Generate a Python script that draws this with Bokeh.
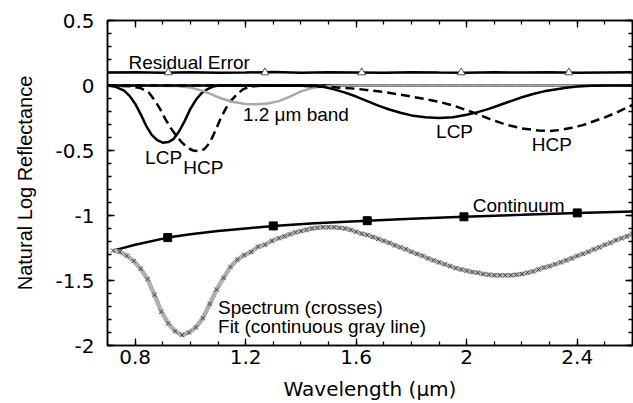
import numpy as np
from bokeh.plotting import figure
from bokeh.models import Range1d, LinearAxis, FixedTicker
from bokeh.core.properties import value
from bokeh.embed import file_html
from bokeh.resources import INLINE

# ---------------- data ----------------
x_ticks = [0.8, 1.2, 1.6, 2.0, 2.4]
x_tick_labels = ["0.8", "1.2", "1.6", "2", "2.4"]
y_ticks = [-2.0, -1.5, -1.0, -0.5, 0.0, 0.5]
y_tick_labels = ["-2", "-1.5", "-1", "-0.5", "0", "0.5"]

# measured spectrum (crosses) and MGM fit (gray line)
spec_x = [0.720, 0.745, 0.770, 0.795, 0.820, 0.845, 0.870, 0.895, 0.920, 0.945,
          0.970, 0.995, 1.020, 1.045, 1.070, 1.095, 1.120, 1.145, 1.170, 1.195,
          1.220, 1.245, 1.270, 1.295,
          1.32, 1.34, 1.36, 1.38, 1.40, 1.42, 1.44, 1.46, 1.48, 1.50,
          1.52, 1.54, 1.56, 1.58, 1.60, 1.62, 1.64, 1.66, 1.68, 1.70,
          1.72, 1.74, 1.76, 1.78, 1.80, 1.82, 1.84, 1.86, 1.88, 1.90,
          1.92, 1.94, 1.96, 1.98, 2.00, 2.02, 2.04, 2.06, 2.08, 2.10,
          2.12, 2.14, 2.16, 2.18, 2.20, 2.22, 2.24, 2.26, 2.28, 2.30,
          2.32, 2.34, 2.36, 2.38, 2.40, 2.42, 2.44, 2.46, 2.48, 2.50,
          2.52, 2.54, 2.56, 2.58, 2.60]
spec_y = [-1.27, -1.28, -1.31, -1.35, -1.41, -1.49, -1.61, -1.74, -1.83, -1.89,
          -1.92, -1.90, -1.86, -1.79, -1.68, -1.57, -1.48, -1.395, -1.34, -1.305,
          -1.28, -1.24, -1.225, -1.195,
          -1.175, -1.16, -1.145, -1.13, -1.12, -1.11, -1.10, -1.095, -1.09, -1.09,
          -1.09, -1.095, -1.10, -1.11, -1.125, -1.14, -1.15, -1.165, -1.18, -1.195,
          -1.21, -1.23, -1.245, -1.26, -1.28, -1.295, -1.31, -1.33, -1.345, -1.36,
          -1.375, -1.39, -1.405, -1.415, -1.425, -1.435, -1.44, -1.45, -1.455, -1.46,
          -1.46, -1.46, -1.46, -1.455, -1.45, -1.44, -1.43, -1.415, -1.40, -1.39,
          -1.375, -1.36, -1.345, -1.33, -1.31, -1.295, -1.28, -1.26, -1.245, -1.225,
          -1.21, -1.19, -1.175, -1.16, -1.14]
fit_x = spec_x
fit_y = spec_y

# continuum
cont_x = [0.72, 0.80, 0.918, 1.00, 1.10, 1.20, 1.30, 1.45, 1.64, 1.80, 1.99, 2.20, 2.40, 2.60]
cont_y = [-1.27, -1.225, -1.17, -1.145, -1.12, -1.10, -1.08, -1.06, -1.04, -1.025, -1.01, -0.995, -0.98, -0.97]
cont_mark_x = [0.918, 1.30, 1.64, 1.99, 2.40]
cont_mark_y = [-1.17, -1.08, -1.04, -1.01, -0.98]

# residual error (offset +0.1)
res_x = [0.70, 0.80, 0.90, 1.00, 1.10, 1.20, 1.30, 1.40, 1.50, 1.60,
         1.70, 1.80, 1.90, 2.00, 2.10, 2.20, 2.30, 2.40, 2.50, 2.60]
res_y = [0.100, 0.102, 0.099, 0.101, 0.098, 0.100, 0.103, 0.099, 0.101, 0.100,
         0.098, 0.102, 0.100, 0.099, 0.101, 0.100, 0.102, 0.099, 0.100, 0.101]
res_mark_x = [0.92, 1.27, 1.62, 1.98, 2.37]
res_mark_y = [0.10, 0.10, 0.10, 0.10, 0.10]

# absorption bands
lcp1_x = [0.70, 0.73, 0.76, 0.78, 0.80, 0.82, 0.84, 0.86, 0.88, 0.90, 0.92, 0.94,
          0.96, 0.98, 1.00, 1.02, 1.04, 1.06, 1.08, 1.10, 1.15, 2.60]
lcp1_y = [0.0, -0.01, -0.04, -0.08, -0.14, -0.22, -0.31, -0.38, -0.42, -0.44, -0.435, -0.41,
          -0.35, -0.27, -0.18, -0.11, -0.06, -0.03, -0.01, 0.0, 0.0, 0.0]

hcp1_x = [0.70, 0.78, 0.82, 0.85, 0.87, 0.89, 0.91, 0.93, 0.95, 0.97, 0.99, 1.01, 1.03,
          1.05, 1.07, 1.09, 1.11, 1.13, 1.15, 1.17, 1.19, 1.21, 1.24, 1.30, 2.60]
hcp1_y = [0.0, -0.005, -0.02, -0.055, -0.11, -0.18, -0.26, -0.33, -0.39, -0.44, -0.48, -0.50, -0.505,
          -0.49, -0.44, -0.35, -0.25, -0.17, -0.11, -0.065, -0.03, -0.012, -0.003, 0.0, 0.0]

band12_x = [0.70, 0.95, 1.00, 1.05, 1.10, 1.15, 1.20, 1.24, 1.28, 1.32, 1.36, 1.40, 1.44, 1.48, 1.55, 2.60]
band12_y = [0.0, -0.003, -0.015, -0.045, -0.09, -0.125, -0.143, -0.145, -0.138, -0.12, -0.085,
            -0.045, -0.02, -0.006, 0.0, 0.0]

lcp2_x = [0.70, 1.40, 1.45, 1.48, 1.52, 1.56, 1.60, 1.64, 1.68, 1.72, 1.76, 1.80, 1.85, 1.90,
          1.95, 2.00, 2.04, 2.08, 2.12, 2.16, 2.20, 2.24, 2.28, 2.32, 2.36, 2.40, 2.45, 2.50, 2.60]
lcp2_y = [0.0, 0.0, -0.003, -0.01, -0.03, -0.055, -0.085, -0.12, -0.155, -0.185, -0.21, -0.23,
          -0.245, -0.25, -0.245, -0.225, -0.205, -0.18, -0.15, -0.12, -0.09, -0.065, -0.045,
          -0.03, -0.018, -0.008, -0.002, 0.0, 0.0]

hcp2_x = [0.70, 1.30, 1.40, 1.50, 1.60, 1.70, 1.80, 1.90, 1.96, 2.02, 2.08, 2.14, 2.20, 2.26,
          2.30, 2.34, 2.38, 2.42, 2.46, 2.50, 2.54, 2.58, 2.60]
hcp2_y = [0.0, 0.0, -0.003, -0.01, -0.025, -0.05, -0.085, -0.125, -0.16, -0.205, -0.255, -0.30,
          -0.33, -0.347, -0.35, -0.342, -0.325, -0.305, -0.275, -0.245, -0.21, -0.17, -0.15]

# annotation texts
ann_text = ["Residual Error", "1.2 \u03bcm band", "LCP", "HCP", "LCP", "HCP", "Continuum",
            "Spectrum (crosses)", "Fit (continuous gray line)"]
ann_x = [0.776, 1.19, 0.903, 1.047, 1.956, 2.308, 2.188, 1.10, 1.10]
ann_y = [0.175, -0.22, -0.557, -0.634, -0.35, -0.45, -0.92, -1.71, -1.855]
ann_align = ["left", "left", "center", "center", "center", "center", "center", "left", "left"]

# ---------------- figure ----------------
p = figure(width=633, height=403, output_backend="svg", toolbar_location=None,
           x_range=Range1d(0.7, 2.6), y_range=Range1d(-2.0, 0.5),
           min_border_left=107, min_border_right=1, min_border_top=20, min_border_bottom=57)
p.grid.visible = False
p.background_fill_color = "white"
p.border_fill_color = "white"
p.outline_line_color = "black"
p.outline_line_width = 1.5

x_minor = list(np.round(np.arange(0.7, 2.61, 0.1), 2))
y_minor = list(np.round(np.arange(-2.0, 0.51, 0.1), 2))


def style_axis(ax, ticks, minor, labels, show):
    ax.ticker = FixedTicker(ticks=ticks, minor_ticks=minor)
    ax.major_tick_in = 7
    ax.major_tick_out = 0
    ax.minor_tick_in = 4
    ax.minor_tick_out = 0
    ax.axis_line_width = 1.5
    ax.major_tick_line_width = 1.3
    ax.minor_tick_line_width = 1.3
    if show:
        ax.major_label_overrides = {t: l for t, l in zip(ticks, labels)}
        ax.major_label_text_font = "DejaVu Sans"
        ax.major_label_text_font_size = "20px"
        ax.major_label_text_color = "black"
    else:
        ax.major_label_overrides = {t: "" for t in ticks}
        ax.major_label_text_font_size = "0px"
        ax.major_label_standoff = 0


xa = p.xaxis[0]
ya = p.yaxis[0]
style_axis(xa, x_ticks, x_minor, x_tick_labels, True)
style_axis(ya, y_ticks, y_minor, y_tick_labels, True)
xa.major_label_standoff = 4
ya.major_label_standoff = 13

xa.axis_label = "Wavelength (\u03bcm)"
xa.axis_label_text_font = "DejaVu Sans"
xa.axis_label_text_font_size = "20px"
xa.axis_label_text_font_style = "normal"
xa.axis_label_text_color = "black"
xa.axis_label_standoff = 10
ya.axis_label = "Natural Log Reflectance"
ya.axis_label_text_font = "Liberation Sans"
ya.axis_label_text_font_size = "20px"
ya.axis_label_text_font_style = "normal"
ya.axis_label_text_color = "black"
ya.axis_label_standoff = 16

top = LinearAxis()
right = LinearAxis()
style_axis(top, x_ticks, x_minor, x_tick_labels, False)
style_axis(right, y_ticks, y_minor, y_tick_labels, False)
p.add_layout(top, "above")
p.add_layout(right, "right")

# ---------------- marks ----------------
p.line(res_x, res_y, line_color="black", line_width=2.5)
p.scatter(res_mark_x, res_mark_y, marker="triangle", size=8, fill_color="white",
          line_color="#555555", line_width=1)

p.line(lcp1_x, lcp1_y, line_color="black", line_width=2.5)
p.line(hcp1_x, hcp1_y, line_color="black", line_width=2.5, line_dash="9 5")
p.line(band12_x, band12_y, line_color="#a8a8a8", line_width=2.5)
p.line(lcp2_x, lcp2_y, line_color="black", line_width=2.5)
p.line(hcp2_x, hcp2_y, line_color="black", line_width=2.5, line_dash="9 5")

p.line(cont_x, cont_y, line_color="black", line_width=2.5)
p.scatter(cont_mark_x, cont_mark_y, marker="square", size=8, fill_color="black", line_color="black")

p.line(fit_x, fit_y, line_color="#b0b0b0", line_width=4.5)
p.scatter(spec_x, spec_y, marker="x", size=6, line_color="#444444", line_width=1)

p.text(x=ann_x, y=ann_y, text=ann_text, text_align=ann_align, text_baseline="middle",
       text_font=value("Liberation Sans"), text_font_size="19px", text_color="black")

open("out.html", "w").write(file_html(p, INLINE))
